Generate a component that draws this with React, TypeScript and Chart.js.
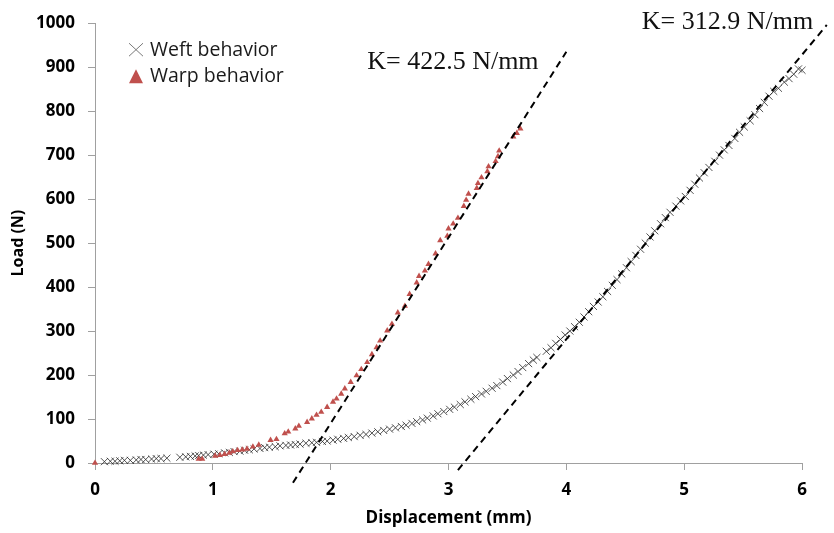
import React, { useEffect, useRef } from "react";
import { Chart, registerables } from "chart.js";

Chart.register(...registerables);

// Weft behavior (displacement mm, load N)
const weftX = [0.08, 0.13, 0.17, 0.21, 0.25, 0.30, 0.35, 0.39, 0.43, 0.48, 0.52, 0.56, 0.61, 0.72, 0.77, 0.81, 0.85, 0.88, 0.92, 0.96, 1.01, 1.05, 1.10, 1.14, 1.18, 1.23, 1.27, 1.31, 1.35, 1.40, 1.44, 1.48, 1.53, 1.57, 1.62, 1.66, 1.70, 1.74, 1.79, 1.84, 1.88, 1.93, 1.97, 2.02, 2.06, 2.11, 2.15, 2.20, 2.25, 2.30, 2.35, 2.40, 2.45, 2.50, 2.55, 2.60, 2.64, 2.69, 2.73, 2.78, 2.82, 2.87, 2.91, 2.96, 3.01, 3.05, 3.10, 3.14, 3.19, 3.23, 3.28, 3.32, 3.37, 3.41, 3.46, 3.50, 3.55, 3.59, 3.63, 3.68, 3.72, 3.75, 3.83, 3.87, 3.91, 3.95, 3.99, 4.03, 4.07, 4.11, 4.15, 4.19, 4.23, 4.27, 4.31, 4.35, 4.39, 4.43, 4.47, 4.51, 4.55, 4.59, 4.63, 4.67, 4.71, 4.75, 4.80, 4.84, 4.88, 4.93, 4.97, 5.01, 5.05, 5.09, 5.13, 5.17, 5.21, 5.26, 5.30, 5.34, 5.38, 5.43, 5.47, 5.51, 5.56, 5.60, 5.64, 5.68, 5.72, 5.76, 5.80, 5.85, 5.89, 5.93, 5.97, 6.00];
const weftY = [3, 4, 4, 5, 6, 6, 7, 8, 8, 9, 10, 10, 11, 13, 14, 15, 16, 17, 18, 19, 20, 21, 23, 24, 26, 27, 29, 30, 32, 33, 35, 36, 37, 39, 40, 41, 42, 43, 45, 46, 47, 49, 50, 52, 54, 56, 58, 60, 63, 65, 68, 71, 74, 77, 80, 83, 86, 90, 94, 98, 102, 107, 112, 117, 122, 127, 133, 139, 145, 151, 157, 163, 170, 176, 184, 192, 200, 208, 217, 226, 234, 240, 254, 262, 272, 281, 291, 300, 310, 320, 332, 344, 356, 366, 378, 390, 404, 417, 430, 444, 458, 472, 486, 500, 514, 528, 544, 558, 570, 584, 596, 606, 620, 634, 648, 660, 672, 686, 700, 712, 722, 738, 752, 764, 778, 792, 806, 820, 834, 845, 852, 866, 874, 884, 896, 893];

// Warp behavior
const warpX = [0, 0.88, 0.91, 1.02, 1.06, 1.10, 1.14, 1.17, 1.21, 1.25, 1.29, 1.34, 1.39, 1.49, 1.54, 1.61, 1.64, 1.70, 1.73, 1.80, 1.84, 1.88, 1.92, 1.97, 2.02, 2.05, 2.09, 2.12, 2.17, 2.22, 2.26, 2.31, 2.35, 2.39, 2.42, 2.48, 2.52, 2.57, 2.63, 2.67, 2.73, 2.75, 2.80, 2.83, 2.89, 2.93, 2.99, 3.00, 3.04, 3.08, 3.13, 3.15, 3.17, 3.24, 3.25, 3.28, 3.33, 3.34, 3.40, 3.42, 3.43, 3.55, 3.58, 3.61];
const warpY = [0, 9, 9, 16, 18, 20, 23, 26, 29, 30, 32, 37, 41, 52, 54, 67, 71, 78, 84, 93, 101, 109, 116, 127, 139, 146, 157, 169, 184, 199, 213, 229, 247, 263, 278, 301, 316, 342, 357, 384, 410, 425, 437, 452, 476, 506, 516, 533, 544, 557, 584, 598, 612, 625, 636, 649, 663, 674, 686, 697, 710, 742, 750, 760];

// Stiffness fit lines (endpoints)
const fitWarpX = [1.68, 4.0];
const fitWarpY = [-45, 935];
const fitWeftX = [3.08, 6.21];
const fitWeftY = [-16, 996];

const seriesNames = ["Weft behavior", "Warp behavior"];
const kLabels = ["K= 422.5 N/mm", "K= 312.9 N/mm"];
const kLabelAnchorX = [2.31, 4.64];
const kLabelAnchorY = [896, 986];

const xMin = 0, xMax = 6, xStep = 1;
const yMin = 0, yMax = 1000, yStep = 100;
const xTitle = "Displacement (mm)";
const yTitle = "Load (N)";

const WARP_COLOR = "#C0504D";
const AXIS_COLOR = "#A0A0A0";

const zip = (xs: number[], ys: number[]) => xs.map((x, i) => ({ x, y: ys[i] }));

const overlayPlugin = {
  id: "overlay",
  afterDatasetsDraw(chart: any) {
    const { ctx, chartArea, scales } = chart;
    const xs = scales.x, ys = scales.y;
    ctx.save();
    // legend
    const lx = chartArea.left + 41;
    const ly1 = chartArea.top + 27;
    const ly2 = chartArea.top + 53;
    ctx.strokeStyle = "#7a7a7a";
    ctx.lineWidth = 1;
    ctx.beginPath();
    ctx.moveTo(lx - 7, ly1 - 7);
    ctx.lineTo(lx + 7, ly1 + 6);
    ctx.moveTo(lx + 7, ly1 - 7);
    ctx.lineTo(lx - 7, ly1 + 6);
    ctx.stroke();
    ctx.fillStyle = WARP_COLOR;
    ctx.beginPath();
    ctx.moveTo(lx, ly2 - 7);
    ctx.lineTo(lx + 7, ly2 + 7);
    ctx.lineTo(lx - 7, ly2 + 7);
    ctx.closePath();
    ctx.fill();
    ctx.fillStyle = "#1a1a1a";
    ctx.font = "19.5px 'Open Sans'";
    ctx.textAlign = "left";
    ctx.textBaseline = "middle";
    ctx.fillText(seriesNames[0], lx + 14, ly1);
    ctx.fillText(seriesNames[1], lx + 14, ly2);
    // K annotations
    ctx.font = "26px 'Liberation Serif'";
    ctx.textBaseline = "alphabetic";
    ctx.fillStyle = "#111";
    for (let i = 0; i < kLabels.length; i++) {
      ctx.fillText(kLabels[i], xs.getPixelForValue(kLabelAnchorX[i]), ys.getPixelForValue(kLabelAnchorY[i]));
    }
    ctx.restore();
  },
};

export default function App() {
  const ref = useRef<HTMLCanvasElement | null>(null);
  useEffect(() => {
    document.body.style.margin = "0";
    const canvas = ref.current;
    if (!canvas) return;
    const chart = new Chart(canvas, {
      type: "scatter",
      data: {
        datasets: [
          {
            label: "fitWarp",
            data: zip(fitWarpX, fitWarpY),
            showLine: true,
            borderColor: "#000",
            borderWidth: 2,
            borderDash: [7, 5],
            pointRadius: 0,
            clip: false as any,
            order: 0,
          },
          {
            label: "fitWeft",
            data: zip(fitWeftX, fitWeftY),
            showLine: true,
            borderColor: "#000",
            borderWidth: 2,
            borderDash: [7, 5],
            pointRadius: 0,
            clip: false as any,
            order: 0,
          },
          {
            label: seriesNames[1],
            data: zip(warpX, warpY),
            pointStyle: "triangle",
            pointRadius: 3.6,
            backgroundColor: WARP_COLOR,
            borderColor: WARP_COLOR,
            borderWidth: 0,
            clip: false as any,
            order: 1,
          },
          {
            label: seriesNames[0],
            data: zip(weftX, weftY),
            pointStyle: "crossRot",
            pointRadius: 5,
            borderColor: "rgba(40,40,40,0.8)",
            borderWidth: 1,
            clip: false as any,
            order: 2,
          },
        ],
      },
      options: {
        responsive: false,
        animation: false,
        layout: { padding: { top: 21, right: 32, bottom: 0, left: 0 } },
        plugins: { legend: { display: false }, tooltip: { enabled: false } },
        scales: {
          x: {
            type: "linear",
            min: xMin,
            max: xMax,
            ticks: { stepSize: xStep, color: "#000", padding: 10, font: { family: "'Open Sans'", size: 17, weight: "bold" }, callback: (v: any) => String(v) },
            grid: { drawOnChartArea: false, drawTicks: true, tickLength: 7, color: AXIS_COLOR },
            border: { color: AXIS_COLOR, width: 1 },
            title: { display: true, text: xTitle, color: "#000", font: { family: "'Open Sans'", size: 17, weight: "bold" }, padding: { top: 0, bottom: 5 } },
            afterFit: (s: any) => { s.height = 70; },
          },
          y: {
            type: "linear",
            min: yMin,
            max: yMax,
            ticks: { stepSize: yStep, color: "#000", padding: 13, font: { family: "'Open Sans'", size: 17, weight: "bold" }, callback: (v: any) => String(v) },
            grid: { drawOnChartArea: false, drawTicks: true, tickLength: 7, color: AXIS_COLOR },
            border: { color: AXIS_COLOR, width: 1 },
            title: { display: true, text: yTitle, color: "#000", font: { family: "'Open Sans'", size: 16, weight: "bold" }, padding: { top: 9, bottom: 0 } },
            afterFit: (s: any) => { s.width = 95; },
          },
        },
      },
      plugins: [overlayPlugin],
    });
    return () => chart.destroy();
  }, []);
  return (
    <div style={{ width: 834, height: 533 }}>
      <canvas ref={ref} width={834} height={533} style={{ display: "block" }} />
    </div>
  );
}
